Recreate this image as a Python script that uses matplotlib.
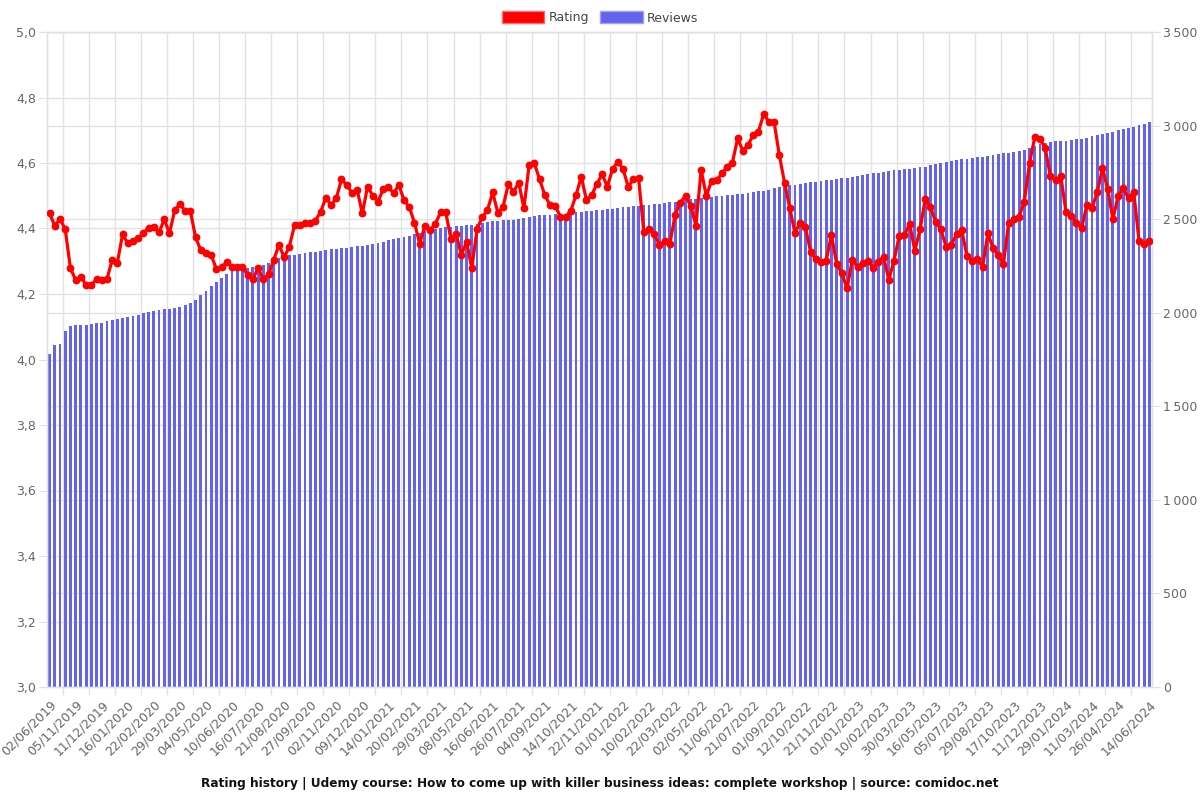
import matplotlib
matplotlib.use('Agg')
import matplotlib.pyplot as plt
import matplotlib.transforms as mtransforms
from matplotlib.patches import Patch
from matplotlib.lines import Line2D
import numpy as np

# labels shown on the x axis (every 5th category, plus the last one)
tick_labels = [
    '02/06/2019', '05/11/2019', '11/12/2019', '16/01/2020', '22/02/2020', '29/03/2020',
    '04/05/2020', '10/06/2020', '16/07/2020', '21/08/2020', '27/09/2020', '02/11/2020',
    '09/12/2020', '14/01/2021', '20/02/2021', '29/03/2021', '08/05/2021', '16/06/2021',
    '26/07/2021', '04/09/2021', '14/10/2021', '22/11/2021', '01/01/2022', '10/02/2022',
    '22/03/2022', '02/05/2022', '11/06/2022', '21/07/2022', '01/09/2022', '12/10/2022',
    '21/11/2022', '01/01/2023', '10/02/2023', '30/03/2023', '16/05/2023', '05/07/2023',
    '29/08/2023', '17/10/2023', '11/12/2023', '29/01/2024', '11/03/2024', '26/04/2024',
    '14/06/2024',
]
tick_index = list(range(0, 210, 5)) + [211]

ratings = [
    4.446, 4.408, 4.430, 4.397, 4.278, 4.243, 4.253, 4.227, 4.227, 4.245,
    4.243, 4.245, 4.304, 4.296, 4.382, 4.355, 4.363, 4.370, 4.385, 4.403,
    4.406, 4.388, 4.428, 4.385, 4.456, 4.475, 4.454, 4.454, 4.373, 4.334,
    4.324, 4.319, 4.276, 4.281, 4.299, 4.283, 4.283, 4.283, 4.258, 4.246,
    4.278, 4.245, 4.260, 4.304, 4.350, 4.312, 4.345, 4.411, 4.411, 4.416,
    4.416, 4.424, 4.451, 4.494, 4.472, 4.492, 4.550, 4.533, 4.509, 4.518,
    4.446, 4.528, 4.500, 4.482, 4.520, 4.528, 4.507, 4.533, 4.487, 4.465,
    4.418, 4.353, 4.408, 4.395, 4.414, 4.449, 4.449, 4.368, 4.383, 4.319,
    4.360, 4.278, 4.398, 4.434, 4.456, 4.510, 4.448, 4.467, 4.535, 4.512,
    4.540, 4.462, 4.594, 4.599, 4.550, 4.502, 4.472, 4.469, 4.436, 4.436,
    4.454, 4.502, 4.558, 4.487, 4.502, 4.536, 4.566, 4.528, 4.581, 4.604,
    4.582, 4.528, 4.550, 4.553, 4.390, 4.398, 4.383, 4.350, 4.362, 4.353,
    4.441, 4.479, 4.500, 4.469, 4.409, 4.579, 4.499, 4.546, 4.548, 4.568,
    4.589, 4.601, 4.675, 4.638, 4.655, 4.686, 4.696, 4.750, 4.725, 4.725,
    4.624, 4.540, 4.462, 4.387, 4.418, 4.404, 4.329, 4.306, 4.297, 4.302,
    4.380, 4.292, 4.263, 4.217, 4.304, 4.283, 4.296, 4.302, 4.280, 4.299,
    4.314, 4.243, 4.302, 4.377, 4.380, 4.414, 4.332, 4.397, 4.490, 4.465,
    4.421, 4.397, 4.344, 4.350, 4.383, 4.395, 4.316, 4.302, 4.306, 4.283,
    4.385, 4.340, 4.319, 4.292, 4.418, 4.428, 4.436, 4.482, 4.599, 4.678,
    4.672, 4.647, 4.560, 4.548, 4.560, 4.451, 4.438, 4.418, 4.401, 4.472,
    4.462, 4.512, 4.584, 4.520, 4.429, 4.499, 4.523, 4.492, 4.512, 4.363,
    4.353, 4.363,
]

reviews = [
    1780, 1828, 1832, 1900, 1930, 1932, 1934, 1936, 1940, 1943,
    1947, 1958, 1961, 1965, 1972, 1977, 1983, 1990, 1997, 2003,
    2008, 2013, 2018, 2022, 2026, 2032, 2040, 2050, 2068, 2092,
    2118, 2142, 2162, 2183, 2205, 2222, 2232, 2235, 2238, 2242,
    2248, 2256, 2266, 2275, 2290, 2302, 2306, 2310, 2314, 2318,
    2322, 2326, 2330, 2334, 2338, 2341, 2344, 2347, 2350, 2354,
    2358, 2362, 2366, 2372, 2380, 2386, 2392, 2398, 2405, 2412,
    2420, 2428, 2436, 2442, 2447, 2452, 2456, 2460, 2463, 2466,
    2468, 2470, 2474, 2480, 2486, 2490, 2492, 2494, 2496, 2498,
    2502, 2506, 2512, 2517, 2520, 2522, 2524, 2526, 2528, 2530,
    2533, 2536, 2539, 2542, 2545, 2547, 2549, 2552, 2556, 2560,
    2564, 2567, 2570, 2572, 2575, 2578, 2580, 2582, 2585, 2590,
    2594, 2598, 2602, 2606, 2609, 2612, 2615, 2618, 2621, 2624,
    2628, 2631, 2634, 2637, 2640, 2644, 2648, 2653, 2658, 2664,
    2670, 2676, 2680, 2684, 2688, 2692, 2696, 2700, 2704, 2707,
    2710, 2714, 2718, 2722, 2726, 2731, 2736, 2740, 2744, 2748,
    2752, 2756, 2760, 2763, 2766, 2768, 2772, 2776, 2781, 2787,
    2793, 2799, 2806, 2812, 2817, 2821, 2824, 2827, 2830, 2834,
    2838, 2842, 2846, 2851, 2856, 2861, 2866, 2872, 2880, 2890,
    2900, 2908, 2913, 2916, 2918, 2920, 2923, 2926, 2930, 2936,
    2942, 2950, 2956, 2962, 2968, 2974, 2980, 2988, 2994, 3002,
    3010, 3018,
]

rating_ticks = [3.0, 3.2, 3.4, 3.6, 3.8, 4.0, 4.2, 4.4, 4.6, 4.8, 5.0]
review_ticks = [0, 500, 1000, 1500, 2000, 2500, 3000, 3500]

RED = '#ff0000'
BLUE = '#6363ee'
GRID = '#e2e2e2'
TXT = '#666666'

plt.rcParams['font.family'] = ['DejaVu Sans']

fig = plt.figure(figsize=(12, 8), dpi=100)
ax = fig.add_axes([47 / 1200, 113 / 800, 1105 / 1200, 655 / 800])
ax2 = ax.twinx()

x = np.arange(len(ratings))

# bars (reviews) on the bottom axes, right-hand scale
ax.bar(x, reviews, width=0.55, color=BLUE, linewidth=0, zorder=2)
ax.set_xlim(-0.5, len(ratings) - 0.5)
ax.set_ylim(0, 3500)
ax.yaxis.tick_right()
ax.set_yticks(review_ticks)
ax.set_yticklabels([f'{v:,}'.replace(',', '\u2009') for v in review_ticks])
ax.grid(axis='y', color=GRID, lw=1, zorder=0)
ax.set_axisbelow(True)

# vertical grid between shown labels
minor_pos = [i + 2.5 for i in range(0, 210, 5)]
ax.set_xticks(minor_pos, minor=True)
ax.set_xticks(tick_index)
ax.set_xticklabels(tick_labels, rotation=45, ha='right', rotation_mode='anchor')
ax.grid(axis='x', which='minor', color=GRID, lw=1, zorder=0)
ax.tick_params(axis='x', which='major', length=0, pad=8, labelsize=9, labelcolor=TXT)
ax.tick_params(axis='x', which='minor', length=6, color=GRID, width=1)
ax.tick_params(axis='y', length=6, color=GRID, pad=2, labelsize=9, labelcolor=TXT)

# rating gridlines drawn under the bars
trans = mtransforms.blended_transform_factory(ax.transAxes, ax2.transData)
for t in rating_ticks:
    ax.add_line(Line2D([0, 1], [t, t], transform=trans, color=GRID, lw=1, zorder=0))

# rating line on top
ax2.plot(x, ratings, color=RED, lw=2.3, marker='o', markersize=4.6, zorder=5)
ax2.set_ylim(3.0, 5.0)
ax2.yaxis.tick_left()
ax2.set_yticks(rating_ticks)
ax2.set_yticklabels([f'{t:.1f}'.replace('.', ',') for t in rating_ticks])
ax2.tick_params(axis='y', length=6, color=GRID, pad=2, labelsize=9, labelcolor=TXT)

for a in (ax, ax2):
    for s in a.spines.values():
        s.set_color(GRID)
        s.set_linewidth(1)

fig.legend(handles=[Patch(facecolor=RED, edgecolor='#ff6a6a', lw=1),
                    Patch(facecolor=BLUE, edgecolor='#a0a0f8', lw=1)],
           labels=['Rating', 'Reviews'], loc='upper center', bbox_to_anchor=(0.5, 1.0),
           ncol=2, frameon=False, fontsize=9, handlelength=3.4, handleheight=1.1,
           handletextpad=0.35, columnspacing=0.9, labelcolor='#444444')

fig.text(0.5, 1 - 783 / 800,
         'Rating history | Udemy course: How to come up with killer business ideas: '
         'complete workshop | source: comidoc.net',
         ha='center', va='center', fontsize=8.7, fontweight='bold', color='#111111')

fig.savefig('out.png', dpi=100)
